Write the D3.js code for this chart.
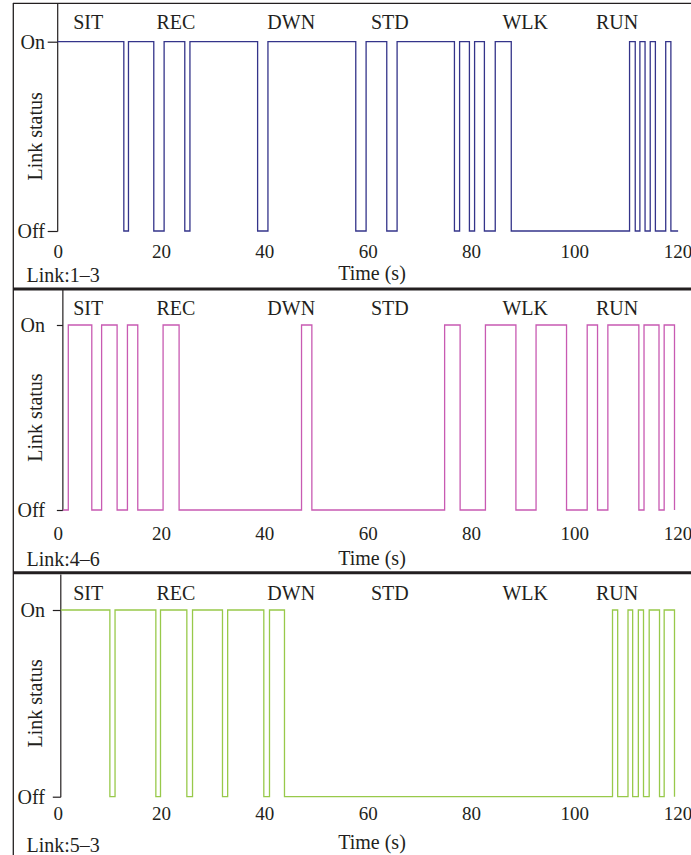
<!DOCTYPE html>
<html>
<head>
<meta charset="utf-8">
<script src="https://cdn.jsdelivr.net/npm/d3@7"></script>
<style>
  html, body { margin: 0; padding: 0; background: #ffffff; }
  svg { display: block; }
  text { font-family: "Liberation Serif", "Times New Roman", serif; fill: #231f20; }
</style>
</head>
<body>
<svg id="chart" width="691" height="855"></svg>
<script>
// ---------------- data ----------------
const xTicks = [0, 20, 40, 60, 80, 100, 120];
const activities = ["SIT", "REC", "DWN", "STD", "WLK", "RUN"];
const activityPos = [5.9, 22.9, 45.2, 64.3, 90.5, 108.3];
const statusLabels = ["Off", "On"];
const linkNames = ["Link:1\u20133", "Link:4\u20136", "Link:5\u20133"];
const xTitle = "Time (s)";
const yTitle = "Link status";

// Link 1-3: change times (s) and state after each change (1 = On, 0 = Off)
const link13Times  = [0, 12.8, 13.7, 18.6, 20.6, 24.6, 25.6, 38.7, 40.7, 57.7, 59.7, 63.7, 65.7, 76.8, 77.8, 79.7, 80.7, 82.6, 84.7, 87.8, 110.7, 111.8, 112.7, 113.7, 114.7, 115.7, 117.7, 118.7];
const link13States = [1,   0,    1,    0,    1,    0,    1,    0,    1,    0,    1,    0,    1,    0,    1,    0,    1,    0,    1,    0,    1,     0,     1,     0,     1,     0,     1,     0];
const link13End = 120.1;

// Link 4-6
const link46Times  = [1.0, 2.05, 6.6, 8.5, 11.5, 13.5, 15.5, 20.4, 23.5, 47.2, 49.2, 74.9, 77.9, 82.8, 88.7, 92.6, 98.5, 102.5, 104.5, 106.5, 112.5, 113.5, 116.4, 117.4, 119.4];
const link46States = [0,   1,    0,   1,   0,    1,    0,    1,    0,    1,    0,    1,    0,    1,    0,    1,    0,    1,     0,     1,     0,     1,     0,     1,     0];
const link46End = 119.4;

// Link 5-3
const link53Times  = [0.6, 10.1, 11.1, 19.0, 19.9, 25.0, 26.1, 31.9, 32.9, 39.9, 41.0, 43.9, 107.4, 108.4, 110.4, 111.3, 112.4, 113.4, 114.5, 116.5, 117.4, 119.4];
const link53States = [1,   0,    1,    0,    1,    0,    1,    0,    1,    0,    1,    0,    1,     0,     1,     0,     1,     0,     1,     0,     1,     0];
const link53End = 119.4;

const seriesColors = ["#34348a", "#c85ab2", "#98c94a"];

// ---------------- layout ----------------
const panels = [
  { times: link13Times, states: link13States, end: link13End, top: 3,     on: 41.7, off: 231,   tickLen: 10, actY: 21.7,  tickY: 251,   linkY: 275,  titleY: 273 },
  { times: link46Times, states: link46States, end: link46End, top: 289.5, on: 325,  off: 510,   tickLen: 6,  actY: 307.5, tickY: 533.3, linkY: 559,  titleY: 558 },
  { times: link53Times, states: link53States, end: link53End, top: 574.5, on: 610,  off: 796.7, tickLen: 8,  actY: 592.5, tickY: 813.5, linkY: 845,  titleY: 842 }
];

const svg = d3.select("#chart");
const x = d3.scaleLinear().domain([0, 120]).range([57.7, 677.6]);
const tickFont = 19;
const labelFont = 20;

panels.forEach((p, i) => {
  const y = d3.scaleLinear().domain([0, 1]).range([p.off, p.on]);
  const g = svg.append("g");
  const axisX = x(p.times[0]);

  // y axis (ticks + labels)
  const yAxis = d3.axisLeft(y)
    .tickValues([0, 1])
    .tickFormat(d => statusLabels[d])
    .tickSize(p.tickLen)
    .tickPadding(axisX - p.tickLen - 45);
  const ya = g.append("g").attr("transform", `translate(${axisX},0)`).call(yAxis);
  ya.select(".domain").remove();
  ya.selectAll("line").attr("stroke", "#231f20").attr("stroke-width", 1.2);
  ya.selectAll("text").attr("font-size", labelFont).attr("fill", "#231f20")
    .style("font-family", '"Liberation Serif", serif');
  g.append("line")
    .attr("x1", axisX).attr("x2", axisX)
    .attr("y1", p.top).attr("y2", p.off + 0.6)
    .attr("stroke", "#231f20").attr("stroke-width", 1.2);

  // x axis labels
  const xAxis = d3.axisBottom(x).tickValues(xTicks).tickSize(0).tickFormat(d3.format("d"));
  const xa = g.append("g").attr("transform", `translate(0,${p.tickY})`).call(xAxis);
  xa.select(".domain").remove();
  xa.selectAll("text").attr("y", 0).attr("dy", "0.35em").attr("font-size", tickFont)
    .attr("fill", "#231f20").style("font-family", '"Liberation Serif", serif');

  // activity labels
  g.selectAll(".act").data(activities).enter().append("text")
    .attr("x", (d, k) => x(activityPos[k]))
    .attr("y", p.actY).attr("dy", "0.35em")
    .attr("text-anchor", "middle").attr("font-size", labelFont)
    .text(d => d);

  // signal
  const pts = p.times.map((t, k) => [t, p.states[k]]);
  pts.push([p.end, p.states[p.states.length - 1]]);
  const line = d3.line().x(d => x(d[0])).y(d => y(d[1])).curve(d3.curveStepAfter);
  g.append("path").attr("d", line(pts))
    .attr("fill", "none").attr("stroke", seriesColors[i]).attr("stroke-width", 1.3);

  // titles
  g.append("text").attr("x", 372).attr("y", p.titleY).attr("dy", "0.35em")
    .attr("text-anchor", "middle").attr("font-size", labelFont).text(xTitle);
  g.append("text").attr("x", 26.5).attr("y", p.linkY).attr("dy", "0.35em")
    .attr("font-size", labelFont).text(linkNames[i]);
  g.append("text")
    .attr("transform", `translate(35,${(p.on + p.off) / 2}) rotate(-90)`)
    .attr("dy", "0.35em").attr("text-anchor", "middle").attr("font-size", labelFont)
    .text(yTitle);
});

// frame lines
svg.append("line").attr("x1", 13).attr("x2", 691).attr("y1", 3.3).attr("y2", 3.3)
  .attr("stroke", "#231f20").attr("stroke-width", 1.3);
svg.append("line").attr("x1", 13.3).attr("x2", 13.3).attr("y1", 3).attr("y2", 855)
  .attr("stroke", "#231f20").attr("stroke-width", 1.3);
[289, 572.7].forEach(yy => {
  svg.append("line").attr("x1", 13).attr("x2", 691).attr("y1", yy).attr("y2", yy)
    .attr("stroke", "#231f20").attr("stroke-width", 3);
});
</script>
</body>
</html>
